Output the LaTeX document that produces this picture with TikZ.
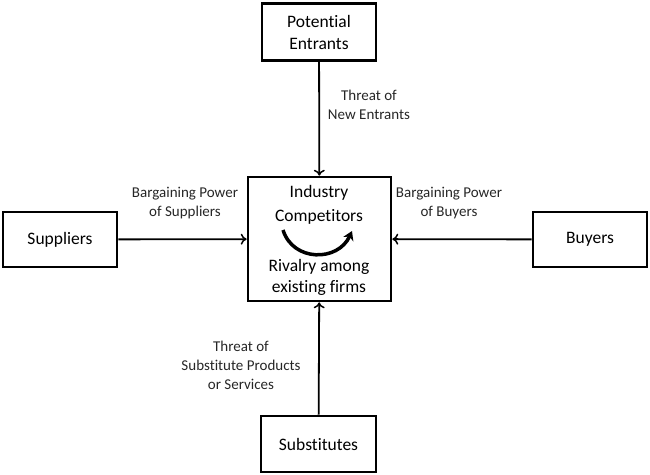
\documentclass[tikz,border=0pt]{standalone}
\usepackage{fontspec}
\setmainfont{Carlito}[Ligatures=NoCommon]
\usetikzlibrary{arrows.meta}
\begin{document}
\begin{tikzpicture}[x=1pt,y=-1pt,
  box/.style={draw,line width=2.6pt,inner sep=0pt,align=center,font=\fontsize{17.5}{22}\selectfont},
  lbl/.style={align=center,text=black!85,font=\fontsize{15}{19}\selectfont},
  conn/.style={line width=1.8pt,-{To[length=6pt,width=11pt,line width=1.5pt]}}]
\useasboundingbox (0,0) rectangle (650,474);
\node[box,minimum width=114pt,minimum height=57pt] (pe) at (319,32) {Potential\\Entrants};
\node[box,minimum width=143pt,minimum height=124pt] (ic) at (319.5,239) {};
\node[box,minimum width=114pt,minimum height=55pt] (su) at (60,239.5) {Suppliers};
\node[box,minimum width=114pt,minimum height=55pt] (bu) at (590,239.5) {Buyers};
\node[box,minimum width=115pt,minimum height=56pt] (sb) at (318.5,444) {Substitutes};
\node[font=\fontsize{17.5}{24}\selectfont,align=center] (t1) at (319,205) {Industry\\Competitors};
\node[font=\fontsize{17.5}{21}\selectfont,align=center] (t2) at (319,277) {Rivalry among\\existing firms};
\draw[conn] (pe) -- (ic);
\draw[conn] (sb) -- (ic);
\draw[conn] (su) -- (ic);
\draw[conn] (bu) -- (ic);
\node[lbl] (l1) at (369,105) {Threat of\\New Entrants};
\node[lbl] (l2) at (185,203) {Bargaining Power\\of Suppliers};
\node[lbl] (l3) at (449,203) {Bargaining Power\\of Buyers};
\node[lbl] (l4) at (241,365) {Threat of\\Substitute Products\\or Services};
\coordinate (ca) at (283,230);
\coordinate (cb) at (352,231);
\draw[line width=3.5pt,-{Stealth[length=9pt,width=11pt]}] (ca) .. controls (293,262) and (338,262) .. (cb);
\end{tikzpicture}
\end{document}
